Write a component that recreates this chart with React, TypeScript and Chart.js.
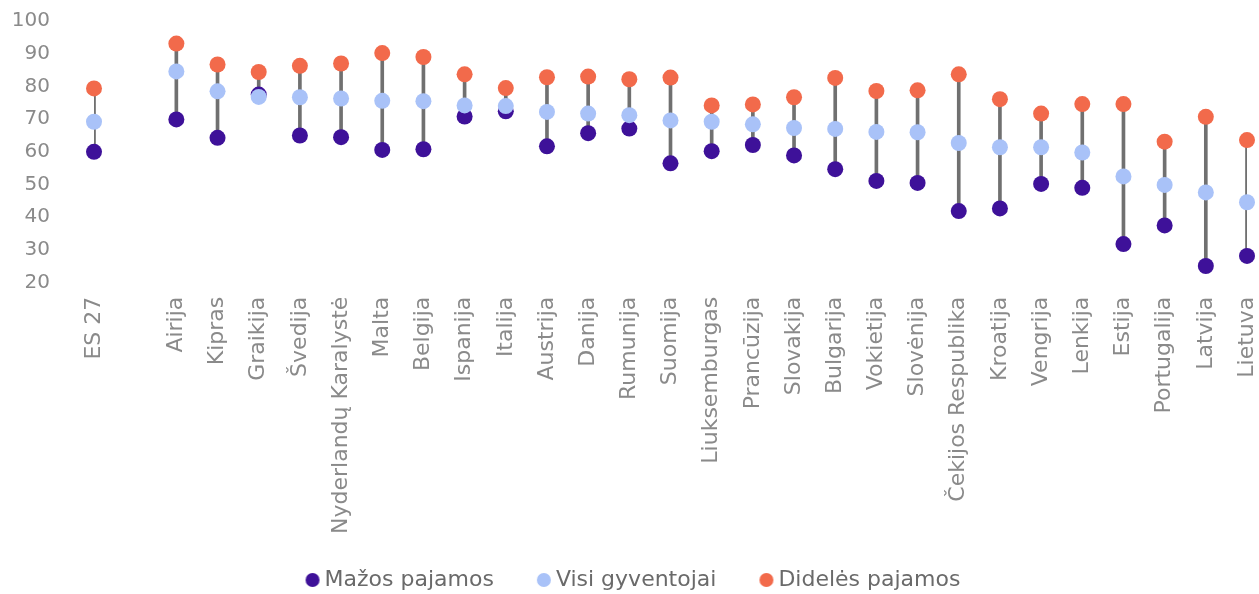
import React, { useEffect, useRef } from "react";
import { Chart, registerables } from "chart.js";

Chart.register(...registerables);

const categories = [
  "ES 27", "", "Airija", "Kipras", "Graikija", "Švedija", "Nyderlandų Karalystė",
  "Malta", "Belgija", "Ispanija", "Italija", "Austrija", "Danija", "Rumunija",
  "Suomija", "Liuksemburgas", "Prancūzija", "Slovakija", "Bulgarija", "Vokietija",
  "Slovėnija", "Čekijos Respublika", "Kroatija", "Vengrija", "Lenkija", "Estija",
  "Portugalija", "Latvija", "Lietuva",
];

const lowIncome = [
  60.0, null, 69.9, 64.3, 77.5, 65.0, 64.5, 60.6, 60.8, 70.8, 72.4, 61.7, 65.7, 67.1,
  56.5, 60.2, 62.1, 58.9, 54.7, 51.1, 50.5, 41.9, 42.7, 50.2, 49.0, 31.8, 37.5, 25.1, 28.2,
];

const allResidents = [
  69.2, null, 84.6, 78.5, 76.8, 76.7, 76.3, 75.6, 75.5, 74.2, 74.0, 72.2, 71.7, 71.2,
  69.6, 69.2, 68.4, 67.3, 67.0, 66.1, 66.0, 62.7, 61.4, 61.4, 59.8, 52.5, 49.9, 47.6, 44.6,
];

const highIncome = [
  79.4, null, 93.1, 86.7, 84.4, 86.3, 87.0, 90.2, 89.0, 83.7, 79.5, 82.8, 83.0, 82.2,
  82.7, 74.2, 74.5, 76.7, 82.6, 78.6, 78.8, 83.7, 76.1, 71.7, 74.6, 74.6, 63.1, 70.7, 63.6,
];

const seriesLabels = ["Mažos pajamos", "Visi gyventojai", "Didelės pajamos"];
const seriesColors = ["#3E1199", "#A9C2F8", "#F26A4B"];

const yMin = 20;
const yMax = 100;
const yStep = 10;

const FONT = "'DejaVu Sans', 'Noto Sans', sans-serif";

// legend marker: a circle placed toward the right of a wider transparent image
function legendMarker(color: string) {
  const c = document.createElement("canvas");
  c.width = 41;
  c.height = 16;
  const ctx = c.getContext("2d")!;
  ctx.fillStyle = color;
  ctx.beginPath();
  ctx.arc(33, 8, 7, 0, Math.PI * 2);
  ctx.fill();
  return c;
}

export default function App() {
  const ref = useRef<HTMLCanvasElement | null>(null);

  useEffect(() => {
    if (!ref.current) return;
    const rangeData = categories.map((_, i) => {
      const vals = [lowIncome[i], allResidents[i], highIncome[i]].filter(
        (v) => v !== null && v !== undefined
      ) as number[];
      return vals.length ? [Math.min(...vals), Math.max(...vals)] : null;
    });

    const markers = seriesColors.map(legendMarker);

    const pointDs = (label: string, data: (number | null)[], color: string, order: number) => ({
      type: "line" as const,
      label,
      data,
      showLine: false,
      backgroundColor: color,
      borderColor: color,
      pointBackgroundColor: color,
      pointBorderColor: color,
      pointBorderWidth: 0,
      borderWidth: 0,
      pointRadius: 8,
      pointHoverRadius: 8,
      order,
    });

    const chart = new Chart(ref.current, {
      type: "bar",
      data: {
        labels: categories,
        datasets: [
          pointDs(seriesLabels[0], lowIncome, seriesColors[0], 3),
          pointDs(seriesLabels[1], allResidents, seriesColors[1], 2),
          pointDs(seriesLabels[2], highIncome, seriesColors[2], 1),
          {
            type: "bar" as const,
            label: "range",
            data: rangeData as any,
            backgroundColor: "#707070",
            borderWidth: 0,
            barThickness: 3,
            order: 4,
          },
        ] as any,
      },
      options: {
        animation: false,
        responsive: false,
        layout: { padding: { left: 0, right: 12, top: 21, bottom: 0 } },
        plugins: {
          legend: {
            position: "bottom",
            labels: {
              usePointStyle: true,
              pointStyleWidth: 27,
              boxHeight: 10,
              padding: 24,
              color: "#6a6a6a",
              font: { family: FONT, size: 22 },
              filter: (item: any) => item.datasetIndex < 3,
              sort: (a: any, b: any) => a.datasetIndex - b.datasetIndex,
              generateLabels: (ch: any) => {
                const items = Chart.defaults.plugins.legend.labels.generateLabels(ch);
                return items.map((it: any) => ({
                  ...it,
                  pointStyle: it.datasetIndex < 3 ? markers[it.datasetIndex] : it.pointStyle,
                  lineWidth: 0,
                }));
              },
            },
          } as any,
          tooltip: { enabled: false },
        },
        scales: {
          x: {
            type: "category",
            offset: false,
            grid: { display: false, drawTicks: false },
            border: { display: false },
            ticks: {
              autoSkip: false,
              maxRotation: 90,
              minRotation: 90,
              padding: 14,
              color: "#8a8a8a",
              font: { family: FONT, size: 22 },
            },
            afterFit: (s: any) => {
              s.height = 262.3;
              s.paddingLeft = 0;
              s.paddingRight = 0;
            },
          },
          y: {
            min: yMin,
            max: yMax,
            grid: { display: false, drawTicks: false },
            border: { display: false },
            ticks: {
              stepSize: yStep,
              padding: 44,
              color: "#8a8a8a",
              font: { family: FONT, size: 20 },
            },
            afterFit: (s: any) => {
              s.width = 94;
              s.paddingTop = 0;
              s.paddingBottom = 0;
            },
          },
        },
      } as any,
    });
    return () => chart.destroy();
  }, []);

  return (
    <div style={{ position: "absolute", left: 0, top: 0, width: 1259, height: 594, overflow: "hidden" }}>
      <canvas ref={ref} width={1259} height={601} style={{ width: 1259, height: 601, display: "block" }} />
    </div>
  );
}
